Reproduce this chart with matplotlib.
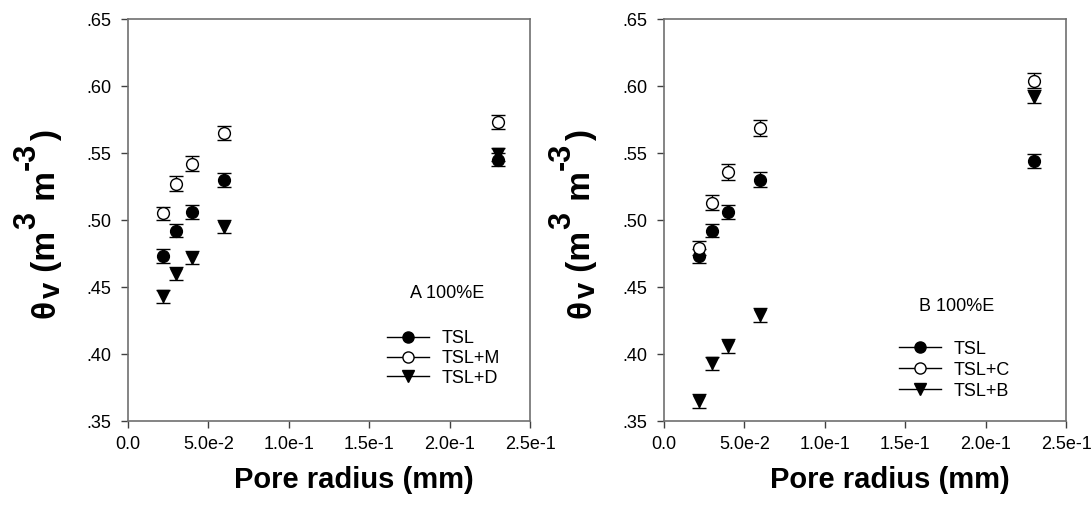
import matplotlib
matplotlib.use("Agg")
import matplotlib.pyplot as plt
from matplotlib.lines import Line2D
from matplotlib.transforms import IdentityTransform

plt.rcParams['font.family'] = ['Liberation Sans', 'DejaVu Sans']

# ---- data ----
radius = [0.022, 0.030, 0.040, 0.060, 0.230]

a_tsl = [0.473, 0.492, 0.506, 0.530, 0.545]
a_tsl_err = [0.005, 0.005, 0.005, 0.005, 0.005]
a_tslm = [0.505, 0.527, 0.542, 0.565, 0.573]
a_tslm_err = [0.005, 0.0055, 0.0055, 0.0055, 0.005]
a_tsld = [0.443, 0.460, 0.472, 0.495, 0.549]
a_tsld_err = [0.005, 0.005, 0.005, 0.005, 0.005]

b_tsl = [0.473, 0.492, 0.506, 0.530, 0.544]
b_tsl_err = [0.005, 0.005, 0.005, 0.0055, 0.005]
b_tslc = [0.479, 0.513, 0.536, 0.569, 0.604]
b_tslc_err = [0.005, 0.0055, 0.006, 0.006, 0.0055]
b_tslb = [0.365, 0.393, 0.406, 0.429, 0.592]
b_tslb_err = [0.005, 0.005, 0.005, 0.005, 0.005]

xticks = [0.0, 0.05, 0.10, 0.15, 0.20, 0.25]
xtick_labels = ['0.0', '5.0e-2', '1.0e-1', '1.5e-1', '2.0e-1', '2.5e-1']
yticks = [0.35, 0.40, 0.45, 0.50, 0.55, 0.60, 0.65]
ytick_labels = ['.35', '.40', '.45', '.50', '.55', '.60', '.65']

panels = [
    dict(title='A 100%E',
         series=[('TSL', a_tsl, a_tsl_err, 'o', 'black'),
                 ('TSL+M', a_tslm, a_tslm_err, 'o', 'white'),
                 ('TSL+D', a_tsld, a_tsld_err, 'v', 'black')]),
    dict(title='B 100%E',
         series=[('TSL', b_tsl, b_tsl_err, 'o', 'black'),
                 ('TSL+C', b_tslc, b_tslc_err, 'o', 'white'),
                 ('TSL+B', b_tslb, b_tslb_err, 'v', 'black')]),
]

W, H = 1092, 509
fig = plt.figure(figsize=(W / 100, H / 100), dpi=100)
renderer = fig.canvas.get_renderer()

axes_px = [(128, 19, 530, 421), (664, 19, 1066, 421)]
title_pos = [(0.794, 0.318), (0.729, 0.284)]
legend_pos = [(0.645, 0.226), (0.585, 0.200)]
legend_spacing = [0.15, 0.22]
ylabel_base = [(55, 509 - 318), (590, 509 - 318)]


def draw_ylabel(x0, y0):
    # pieces: text, size, baseline shift (pixels, positive = raised)
    pieces = [('θ', 24, 0), ('v', 21, -5), (' (m', 24, 0), ('3', 22, 20),
              (' m', 24, 0), ('-3', 22, 20), (')', 24, 0)]
    y = y0
    for s, size, shift in pieces:
        tmp = fig.text(0, 0, s, fontsize=size, fontweight='bold')
        w = tmp.get_window_extent(renderer).width
        tmp.remove()
        fig.text(x0 - shift, y, s, fontsize=size, fontweight='bold',
                 rotation=90, rotation_mode='anchor', ha='left',
                 va='baseline', transform=IdentityTransform())
        y += w + 1.5


for p, (x0, y0, x1, y1), tpos, lpos, lsp, yb in zip(
        panels, axes_px, title_pos, legend_pos, legend_spacing, ylabel_base):
    ax = fig.add_axes([x0 / W, 1 - y1 / H, (x1 - x0) / W, (y1 - y0) / H])
    handles = []
    for name, vals, errs, mk, fc in p['series']:
        ax.errorbar(radius, vals, yerr=errs, fmt=mk, mfc=fc, mec='black',
                    ecolor='black', ms=8.5, mew=1.0, elinewidth=1.0,
                    capsize=5, capthick=1.3, zorder=3)
        handles.append(Line2D([], [], color='black', lw=1.0, marker=mk,
                              mfc=fc, mec='black', ms=8, mew=1.0))
    ax.set_xlim(0, 0.25)
    ax.set_ylim(0.35, 0.65)
    ax.set_xticks(xticks)
    ax.set_xticklabels(xtick_labels)
    ax.set_yticks(yticks)
    ax.set_yticklabels(ytick_labels)
    ax.tick_params(direction='out', length=5, width=1, color='#404040',
                   labelsize=13)
    ax.tick_params(axis='x', pad=6)
    ax.tick_params(axis='y', pad=7)
    for s in ax.spines.values():
        s.set_color('#707070')
        s.set_linewidth(1.2)
    ax.set_xlabel('Pore radius (mm)', fontsize=21, fontweight='bold',
                  va='baseline')
    ax.xaxis.set_label_coords(0.561, -0.166)
    draw_ylabel(*yb)
    ax.text(tpos[0], tpos[1], p['title'], transform=ax.transAxes,
            ha='center', va='center', fontsize=13)
    ax.legend(handles=handles, labels=[s[0] for s in p['series']],
              loc='upper left', bbox_to_anchor=lpos, frameon=False,
              fontsize=13, handlelength=2.33, handletextpad=0.67,
              labelspacing=lsp, borderpad=0, borderaxespad=0)

fig.savefig('out.png', dpi=100)
